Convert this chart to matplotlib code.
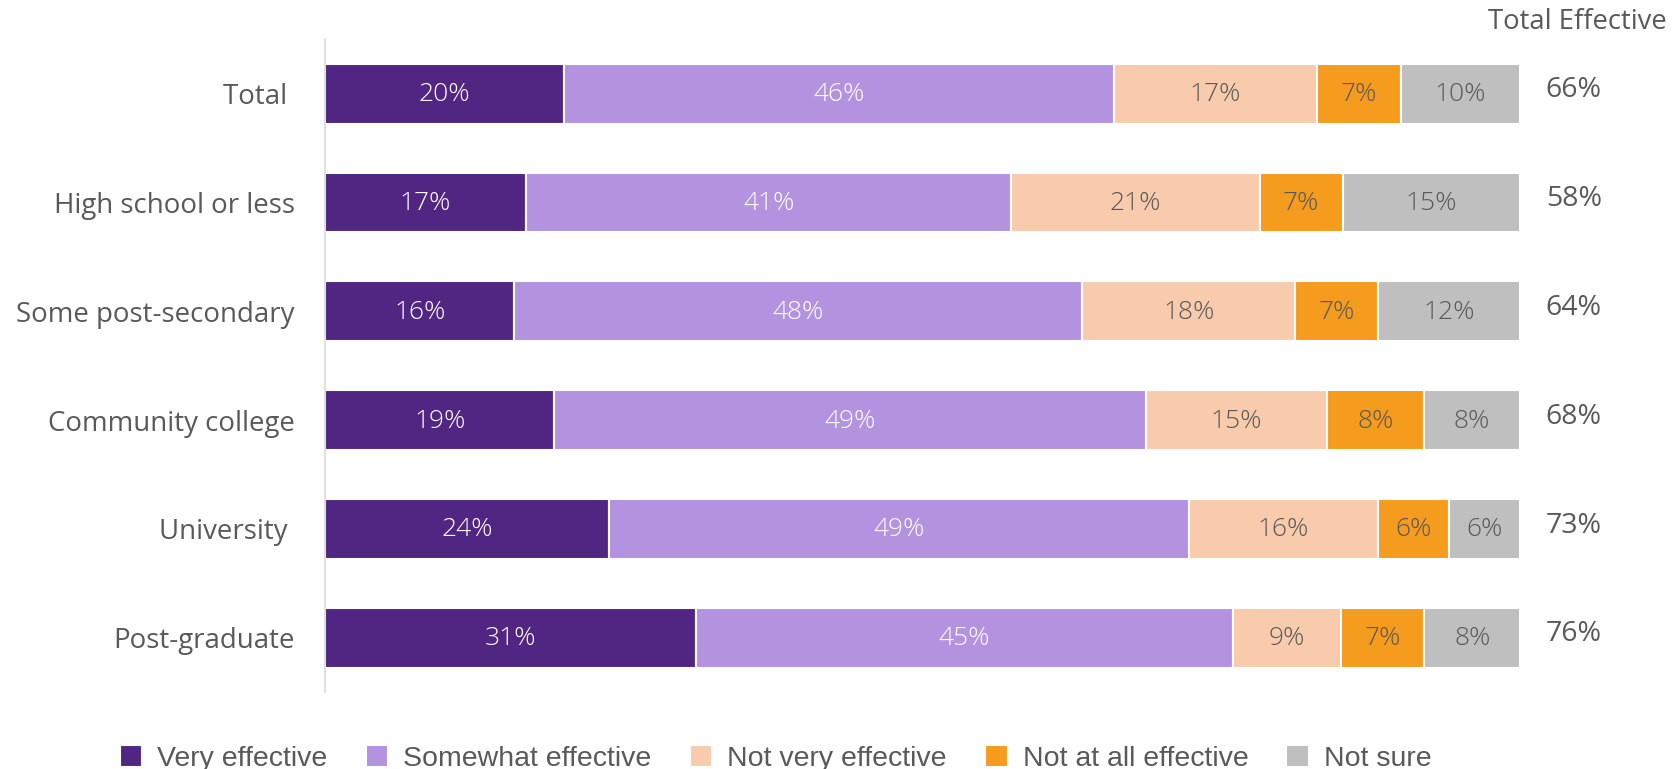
import matplotlib
matplotlib.use("Agg")
import matplotlib.pyplot as plt
import numpy as np

categories = ["Total ", "High school or less", "Some post-secondary",
              "Community college", "University ", "Post-graduate"]
series_names = ["Very effective", "Somewhat effective", "Not very effective",
                "Not at all effective", "Not sure"]
very_effective = [20, 17, 16, 19, 24, 31]
somewhat_effective = [46, 41, 48, 49, 49, 45]
not_very_effective = [17, 21, 18, 15, 16, 9]
not_at_all_effective = [7, 7, 7, 8, 6, 7]
not_sure = [10, 15, 12, 8, 6, 8]
total_effective = [66, 58, 64, 68, 73, 76]

series = [very_effective, somewhat_effective, not_very_effective,
          not_at_all_effective, not_sure]
colors = ["#512683", "#B393DF", "#F8CBAD", "#F59B1D", "#BFBFBF"]
text_colors = ["white", "white", "#595959", "#595959", "#595959"]
gray = "#595959"

fig = plt.figure(figsize=(16.73, 7.69), dpi=100)
ax = fig.add_axes([0.1943, 0.1, 0.7143, 0.849])

# 100% stacked bars: each row is scaled by its own total
values = np.array(series, dtype=float)
row_totals = values.sum(axis=0)

y = np.arange(len(categories))
left = np.zeros(len(categories))
for vals, col, tc, name in zip(values, colors, text_colors, series_names):
    widths = vals / row_totals * 100
    ax.barh(y, widths, left=left, height=0.55, color=col,
            edgecolor="white", linewidth=1.5, label=name)
    for yi, l, w, v in zip(y, left, widths, vals):
        ax.text(l + w / 2, yi + 0.01, f"{int(v)}%", ha="center", va="center",
                fontsize=19, color=tc, family="Open Sans", fontweight="light")
    left += widths

for yi, t in zip(y, total_effective):
    ax.text(1.045, yi - 0.03, f"{t}%", transform=ax.get_yaxis_transform(),
            ha="center", va="center", fontsize=20.5, color=gray, family="Open Sans")

fig.text(0.996, 0.972, "Total Effective", ha="right", va="center",
         fontsize=19.8, color=gray, family="Open Sans")

ax.set_ylim(len(categories) - 0.5, -0.5)
ax.set_xlim(0, 100)
ax.set_yticks(y)
ax.set_yticklabels(categories, fontsize=19.9, color=gray, family="Open Sans")
ax.tick_params(axis="y", length=0, pad=22)
ax.set_xticks([])
for s in ["top", "right", "bottom"]:
    ax.spines[s].set_visible(False)
ax.spines["left"].set_color("#D9D9D9")
ax.spines["left"].set_linewidth(1.2)

handles, labels = ax.get_legend_handles_labels()
leg = fig.legend(handles, labels, loc="center left", ncol=5,
                 bbox_to_anchor=(0.0715, 0.014), frameon=False,
                 prop={"family": "Liberation Sans", "size": 20.5},
                 handlelength=0.8, handleheight=0.8, handletextpad=0.53,
                 columnspacing=1.33, borderaxespad=0, borderpad=0)
for t in leg.get_texts():
    t.set_color(gray)

fig.savefig("out.png", dpi=100)
